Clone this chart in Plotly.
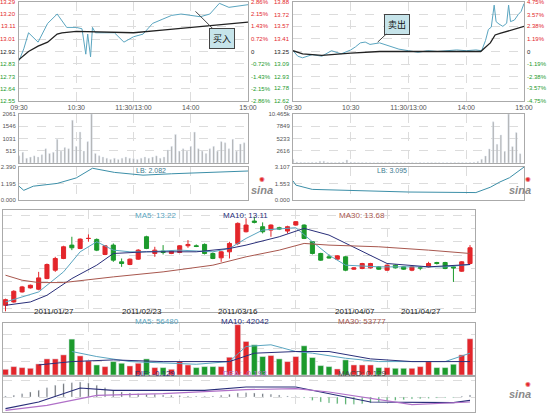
import plotly.graph_objects as go

W, H = 550, 413

# ---------------- intraday, day 1 (buy) ----------------
l_price_t = [0, 5, 10, 20, 30, 40, 50, 60, 66, 70, 72, 75, 77, 80, 90, 100, 110, 120, 130,
             140, 150, 160, 170, 180, 190, 200, 210, 220, 230, 240]
l_price = [12.85, 12.94, 13.06, 12.99, 13.13, 13.20, 13.10, 13.10, 13.09, 12.90, 13.05, 12.88,
           13.10, 13.06, 13.06, 13.06, 12.99, 13.03, 13.05, 13.13, 13.16, 13.19, 13.20, 13.19,
           13.18, 13.20, 13.28, 13.25, 13.26, 13.27]
l_avg_t = [0, 10, 20, 30, 40, 45, 60, 120, 150, 180, 210, 240]
l_avg = [12.86, 12.92, 12.96, 12.99, 13.05, 13.06, 13.07, 13.06, 13.08, 13.10, 13.12, 13.14]
l_vol = [300, 450, 200, 250, 300, 250, 350, 600, 400, 450, 1000, 500, 650, 600, 1800, 700,
         1300, 500, 900, 2061, 400, 300, 250, 200, 150, 200, 150, 200, 250, 200, 180, 150,
         200, 250, 200, 250, 300, 200, 250, 550, 700, 1200, 500, 600, 500, 700, 1300, 600,
         500, 400, 600, 700, 500, 900, 850, 600, 1000, 500, 800, 850]
l_lb_t = [0, 5, 15, 40, 60, 77, 100, 130, 160, 200, 240]
l_lb = [1.0, 0.7, 1.0, 1.2, 1.6, 2.3, 2.0, 1.8, 1.9, 2.0, 2.1]
l_ticks = [13.29, 13.20, 13.11, 13.01, 12.92, 12.83, 12.73, 12.64, 12.55]
l_pct = ["2.86%", "2.15%", "1.43%", "0.72%", "0", "-0.72%", "-1.43%", "-2.15%", "-2.86%"]
l_vol_ticks = [515, 1031, 1546, 2061]
l_lb_ticks = [0.0, 1.195, 2.390]

# ---------------- intraday, day 2 (sell) ----------------
r_price_t = [0, 5, 10, 20, 30, 40, 50, 60, 65, 70, 75, 80, 90, 100, 110, 120, 130, 140, 150,
             160, 170, 180, 190, 196, 200, 203, 206, 209, 211, 214, 218, 222, 224, 226, 230,
             234, 237, 240]
r_price = [13.26, 13.19, 13.17, 13.21, 13.19, 13.26, 13.22, 13.27, 13.31, 13.36, 13.37,
           13.34, 13.36, 13.32, 13.28, 13.26, 13.24, 13.26, 13.25, 13.26, 13.27, 13.26, 13.27,
           13.26, 13.39, 13.53, 13.56, 13.84, 13.63, 13.60, 13.57, 13.61, 13.84, 13.63, 13.65,
           13.72, 13.76, 13.86]
r_avg_t = [0, 10, 30, 60, 90, 195, 205, 210, 215, 225, 240]
r_avg = [13.26, 13.22, 13.20, 13.23, 13.25, 13.25, 13.36, 13.46, 13.48, 13.52, 13.57]
r_vol = [800, 200, 150, 100, 100, 150, 150, 350, 400, 150, 100, 100, 150, 200, 650, 200, 150,
         100, 100, 100, 80, 80, 100, 80, 80, 80, 80, 100, 100, 80, 80, 80, 80, 100, 80, 80, 80,
         80, 80, 80, 80, 80, 100, 80, 80, 80, 100, 150, 300, 800, 1500, 3000, 8800, 4000, 6000,
         2500, 10465, 3500, 6500, 2000]
r_lb_t = [0, 3, 20, 60, 120, 190, 205, 215, 225, 240]
r_lb = [1.8, 1.4, 1.0, 0.9, 0.75, 0.7, 1.2, 1.7, 2.1, 3.1]
r_ticks = [13.88, 13.72, 13.57, 13.41, 13.25, 13.09, 12.93, 12.78, 12.62]
r_pct = ["4.75%", "3.57%", "2.38%", "1.19%", "0", "-1.19%", "-2.38%", "-3.57%", "-4.75%"]
r_vol_ticks = [2616, 5233, 7849, 10465]
r_lb_ticks = [0.0, 1.553, 3.107]

time_ticks = [0, 60, 120, 180, 240]
time_labels = ["09:30", "10:30", "11:30/13:00", "14:00", "15:00"]

# ---------------- daily k-line ----------------
k_open = [12.50, 12.60, 12.90, 13.02, 12.98, 13.30, 13.55, 13.90, 14.30, 14.20, 14.50, 14.47,
          14.02, 14.30, 13.80, 13.72, 13.88, 14.55, 14.05, 14.12, 14.05, 14.08, 14.28, 14.28,
          14.32, 14.05, 13.92, 14.10, 14.35, 14.70, 15.02, 14.85, 14.75, 14.82, 14.72, 14.90,
          14.90, 14.40, 14.05, 13.95, 13.88, 13.95, 13.58, 13.60, 13.62, 13.65, 13.55, 13.70,
          13.65, 13.55, 13.62, 13.65, 13.78, 13.78, 13.65, 13.52, 13.75]
k_close = [12.67, 12.92, 13.05, 13.10, 13.32, 13.72, 13.90, 14.25, 14.22, 14.48, 14.50, 14.15,
           14.28, 13.85, 13.75, 13.88, 14.15, 14.20, 14.15, 14.08, 14.12, 14.28, 14.32, 14.26,
           14.05, 13.90, 14.10, 14.35, 14.95, 14.90, 14.98, 14.70, 14.90, 14.78, 14.85, 15.00,
           14.50, 14.05, 13.85, 13.92, 13.98, 13.55, 13.62, 13.75, 13.75, 13.58, 13.70, 13.62,
           13.58, 13.65, 13.62, 13.75, 13.75, 13.60, 13.62, 13.80, 14.22]
k_high = [12.70, 12.95, 13.08, 13.12, 13.50, 13.75, 13.95, 14.28, 14.55, 14.50, 14.62, 14.50,
          14.30, 14.35, 13.90, 13.90, 14.18, 14.58, 14.25, 14.30, 14.15, 14.30, 14.45, 14.32,
          14.35, 14.08, 14.12, 14.40, 14.98, 15.10, 15.15, 14.98, 14.92, 14.85, 14.88, 15.02,
          14.92, 14.42, 14.07, 14.02, 14.00, 13.97, 13.64, 13.77, 13.77, 13.67, 13.72, 13.72,
          13.66, 13.67, 13.67, 13.80, 13.80, 13.80, 13.67, 13.82, 14.30]
k_low = [12.32, 12.58, 12.88, 13.00, 12.95, 13.28, 13.50, 13.88, 14.15, 14.18, 14.40, 14.12,
         14.00, 13.80, 13.65, 13.70, 13.86, 14.18, 13.95, 14.02, 14.03, 14.06, 14.22, 14.24,
         14.02, 13.88, 13.80, 13.90, 14.30, 14.68, 14.95, 14.65, 14.55, 14.75, 14.65, 14.88,
         14.48, 14.02, 13.83, 13.90, 13.86, 13.52, 13.56, 13.58, 13.60, 13.56, 13.53, 13.60,
         13.56, 13.52, 13.55, 13.63, 13.72, 13.58, 13.20, 13.50, 13.72]
ma5_i = [1, 5, 8, 10, 12, 14, 16, 18, 22, 26, 28, 30, 32, 36, 38, 40, 42, 46, 50, 54, 57]
ma5 = [12.60, 12.90, 13.50, 14.10, 14.40, 14.15, 14.10, 14.10, 14.15, 14.10, 14.20, 14.50,
       14.75, 14.82, 14.40, 14.00, 13.70, 13.65, 13.65, 13.65, 13.72]
ma10_i = [1, 4, 6, 9, 12, 14, 18, 24, 28, 30, 34, 37, 40, 44, 47, 52, 57]
ma10 = [12.50, 12.60, 12.80, 13.30, 13.70, 14.05, 14.10, 14.10, 14.20, 14.30, 14.55, 14.80,
        14.60, 14.10, 13.75, 13.65, 13.72]
ma30_i = [1, 3, 5, 8, 14, 20, 26, 30, 34, 37, 40, 46, 52, 57]
ma30 = [13.40, 13.25, 13.18, 13.18, 13.35, 13.50, 13.70, 13.95, 14.15, 14.35, 14.30, 14.25,
        14.15, 14.05]

k_vol = [8500, 12500, 11000, 10000, 16500, 24000, 24000, 30000, 53500, 28500, 21000, 15000,
         12500, 20000, 17500, 13500, 17500, 24000, 11000, 11000, 8500, 20000, 15000, 11000,
         12500, 12500, 12500, 26500, 75000, 50000, 45000, 27500, 29000, 24000, 20000, 27500,
         43500, 26000, 14000, 12500, 9000, 22500, 15000, 15000, 15000, 11000, 11000, 10000,
         10000, 10000, 12500, 20000, 11000, 11000, 16000, 30000, 54000]
vma5_i = [9, 12, 16, 20, 24, 28, 30, 33, 36, 38, 42, 46, 50, 54, 57]
vma5 = [35000, 27500, 20000, 17500, 16000, 20000, 42500, 45000, 35000, 32500, 25000, 20000,
        20000, 20000, 32500]
vma10_i = [5, 9, 14, 20, 28, 31, 36, 40, 45, 50, 57]
vma10 = [15000, 20000, 22500, 20000, 20000, 32500, 35000, 35000, 24000, 20000, 20000]

macd_hist = [0.03, 0.05, 0.10, 0.15, 0.20, 0.28, 0.35, 0.40, 0.43, 0.45, 0.42, 0.35, 0.28,
             0.20, 0.15, 0.12, 0.10, 0.08, 0.08, 0.06, 0.05, 0.04, 0.03, 0.02, 0.02, 0.03,
             0.05, 0.08, 0.12, 0.13, 0.12, 0.10, 0.08, 0.06, 0.03, 0.01, -0.03, -0.10, -0.15,
             -0.18, -0.20, -0.22, -0.22, -0.20, -0.18, -0.15, -0.12, -0.10, -0.08, -0.06,
             -0.05, -0.04, -0.03, -0.02, -0.02, 0.02, 0.06]
dif_i = [1, 5, 10, 14, 25, 30, 36, 40, 45, 55, 57]
dif = [-0.35, -0.15, 0.27, 0.20, 0.20, 0.30, 0.30, 0.10, -0.15, -0.17, -0.10]
dea_i = [1, 6, 12, 20, 30, 36, 40, 45, 50, 57]
dea = [-0.40, -0.25, 0.05, 0.10, 0.22, 0.25, 0.15, -0.05, -0.23, -0.15]

date_labels = ["2011/01/27", "2011/02/23", "2011/03/16", "2011/04/07", "2011/04/27"]

RED, GREEN = "#e3262b", "#1c9a2c"
BLUE, NAVY, BROWN, VIOLET = "#5aa5c0", "#2a2f7a", "#a8574e", "#b070c8"
GRID = "#dcdcdc"
FONT = "Liberation Sans"
TICK = 6

fig = go.Figure()
days = list(range(1, len(k_open) + 1))
up = [c >= o for o, c in zip(k_open, k_close)]
vol_colors = [RED if u else GREEN for u in up]


def px(v):
    return v / W


def py(v):
    return 1 - v / H


def axis(dom, rng, **kw):
    d = dict(domain=dom, range=rng, showgrid=True, gridcolor=GRID, griddash="dash",
             gridwidth=1, zeroline=False, showline=True, linecolor="#aaa", mirror=True,
             tickfont=dict(size=TICK, color="#555", family=FONT), ticks="", fixedrange=True,
             automargin=False)
    d.update(kw)
    return d


annotations = []


def intraday(n, x0, x1, pt, pr, at, av, vol, lbt, lb, ticks, pct, vticks, lbticks):
    xa = f"x{n}" if n > 1 else "x"
    ya = f"y{n}" if n > 1 else "y"
    fig.add_trace(go.Scatter(x=pt, y=pr, mode="lines", line=dict(color=BLUE, width=1),
                             xaxis=xa, yaxis=ya))
    fig.add_trace(go.Scatter(x=at, y=av, mode="lines", line=dict(color="#222", width=1.3),
                             xaxis=xa, yaxis=ya))
    vt = [i * 4 for i in range(len(vol))]
    fig.add_trace(go.Bar(x=vt, y=vol, marker_color="#a8a8a8", width=1.6,
                         xaxis=f"x{n+1}", yaxis=f"y{n+1}"))
    fig.add_trace(go.Scatter(x=lbt, y=lb, mode="lines", line=dict(color="#3c8fa8", width=1),
                             xaxis=f"x{n+2}", yaxis=f"y{n+2}"))
    dom = [px(x0), px(x1)]
    key = lambda k, i: f"{k}axis{i}" if i > 1 else f"{k}axis"
    fig.layout[key("x", n)] = axis(dom, [0, 240], tickvals=time_ticks, ticktext=time_labels,
                                   anchor=ya, tickfont=dict(size=7, color="#555", family=FONT))
    fig.layout[key("y", n)] = axis([py(101), py(2)], [ticks[-1], ticks[0]], tickvals=ticks,
                                   showticklabels=False, anchor=xa)
    fig.layout[key("x", n + 1)] = axis(dom, [0, 240], showticklabels=False,
                                       tickvals=time_ticks, anchor=f"y{n+1}")
    fig.layout[key("y", n + 1)] = axis([py(163), py(114)], [0, vticks[-1]], tickvals=vticks,
                                       anchor=f"x{n+1}", ticklabelstandoff=1)
    fig.layout[key("x", n + 2)] = axis(dom, [0, 240], showticklabels=False,
                                       tickvals=time_ticks, anchor=f"y{n+2}")
    fig.layout[key("y", n + 2)] = axis([py(200), py(167)], [0, lbticks[-1]],
                                       tickvals=lbticks, tickformat=".3f",
                                       anchor=f"x{n+2}", ticklabelstandoff=1)
    for i, (t, p) in enumerate(zip(ticks, pct)):
        col = RED if i < 4 else ("#222" if i == 4 else GREEN)
        annotations.append(dict(x=px(x0) - 0.001, y=t, xref="paper", yref=ya, text=f"{t:.2f}",
                                xanchor="right", showarrow=False,
                                font=dict(size=TICK, color=col, family=FONT)))
        annotations.append(dict(x=px(x1) + 0.001, y=t, xref="paper", yref=ya, text=p,
                                xanchor="left", showarrow=False,
                                font=dict(size=TICK, color=col, family=FONT)))


intraday(1, 19, 248, l_price_t, l_price, l_avg_t, l_avg, l_vol, l_lb_t, l_lb,
         l_ticks, l_pct, l_vol_ticks, l_lb_ticks)
intraday(4, 293, 524, r_price_t, r_price, r_avg_t, r_avg, r_vol, r_lb_t, r_lb,
         r_ticks, r_pct, r_vol_ticks, r_lb_ticks)

annotations += [
    dict(x=0.5 * (px(19) + px(248)), y=py(165), xref="paper", yref="paper", text="LB: 2.082",
         showarrow=False, yanchor="top", font=dict(size=7, color="#3c7a90", family=FONT)),
    dict(x=0.5 * (px(293) + px(524)), y=py(165), xref="paper", yref="paper", text="LB: 3.095",
         showarrow=False, yanchor="top", font=dict(size=7, color="#3c7a90", family=FONT)),
    dict(x=185, y=13.22, xref="x", yref="y", ax=213, ay=13.02, axref="x", ayref="y",
         text="买入", showarrow=True, arrowhead=0, arrowwidth=1, arrowcolor="#444",
         bgcolor="#c6e4ea", bordercolor="#444", borderwidth=1, borderpad=3,
         font=dict(size=9, color="#111", family="Noto Sans CJK SC")),
    dict(x=88, y=13.37, xref="x4", yref="y4", ax=108, ay=13.60, axref="x4", ayref="y4",
         text="卖出", showarrow=True, arrowhead=0, arrowwidth=1, arrowcolor="#444",
         bgcolor="#c6e4ea", bordercolor="#444", borderwidth=1, borderpad=3,
         font=dict(size=9, color="#111", family="Noto Sans CJK SC")),
]

# ---------------- daily panels ----------------
fig.add_trace(go.Candlestick(x=days, open=k_open, high=k_high, low=k_low, close=k_close,
                             increasing=dict(line=dict(color=RED, width=1), fillcolor=RED),
                             decreasing=dict(line=dict(color=GREEN, width=1), fillcolor=GREEN),
                             whiskerwidth=0, xaxis="x7", yaxis="y7"))
for xi, yv, col in [(ma5_i, ma5, BLUE), (ma10_i, ma10, NAVY), (ma30_i, ma30, BROWN)]:
    fig.add_trace(go.Scatter(x=xi, y=yv, mode="lines", line=dict(color=col, width=1),
                             xaxis="x7", yaxis="y7"))
fig.add_trace(go.Bar(x=days, y=k_vol, marker_color=vol_colors, width=0.7,
                     xaxis="x8", yaxis="y8"))
for xi, yv, col in [(vma5_i, vma5, BLUE), (vma10_i, vma10, NAVY)]:
    fig.add_trace(go.Scatter(x=xi, y=yv, mode="lines", line=dict(color=col, width=1),
                             xaxis="x8", yaxis="y8"))
fig.add_trace(go.Bar(x=days, y=macd_hist, width=0.15,
                     marker_color=["#444" if v >= 0 else GREEN for v in macd_hist],
                     xaxis="x9", yaxis="y9"))
fig.add_trace(go.Scatter(x=dif_i, y=dif, mode="lines", line=dict(color=NAVY, width=1.2),
                         xaxis="x9", yaxis="y9"))
fig.add_trace(go.Scatter(x=dea_i, y=dea, mode="lines", line=dict(color=VIOLET, width=1.2),
                         xaxis="x9", yaxis="y9"))

kdom = [px(3), px(475)]
krng = [0.7, 57.6]
kgrid = [11, 22, 36, 47]
fig.update_layout(
    xaxis7=axis(kdom, krng, tickvals=kgrid, showticklabels=False, anchor="y7",
                rangeslider=dict(visible=False)),
    yaxis7=axis([py(312), py(210)], [12.30, 15.35], dtick=0.4, showticklabels=False,
                anchor="x7"),
    xaxis8=axis(kdom, krng, tickvals=kgrid, showticklabels=False, anchor="y8"),
    yaxis8=axis([py(375), py(323)], [0, 77500], dtick=20000, showticklabels=False,
                anchor="x8"),
    xaxis9=axis(kdom, krng, tickvals=kgrid, showticklabels=False, anchor="y9"),
    yaxis9=axis([py(412), py(377)], [-0.45, 0.60], dtick=0.5, showticklabels=False,
                anchor="x9"),
)

for lx, txt in zip([32, 120, 238, 355, 443], date_labels):
    annotations.append(dict(x=px(lx), y=py(318), xref="paper", yref="paper", text=txt,
                            showarrow=False, font=dict(size=8, color="#222", family=FONT)))
for yy, items in [(215, [("MA5: 13.22", BLUE), ("MA10: 13.11", NAVY), ("MA30: 13.68", BROWN)]),
                  (328, [("MA5: 56480", BLUE), ("MA10: 42042", NAVY), ("MA30: 53777", BROWN)]),
                  (380, [("DIF: -0.129", NAVY), ("DEA: -0.193", VIOLET), ("MACD: 0.129", "#444")])]:
    for lx, (txt, col) in zip([133, 245, 362], items):
        annotations.append(dict(x=px(lx), y=py(yy), xref="paper", yref="paper", text=txt,
                                showarrow=False,
                                font=dict(size=8, color=col, family=FONT)))
for lx, lyy in [(262, 190), (533, 190), (533, 402)]:
    annotations.append(dict(x=px(lx), y=py(lyy), xref="paper", yref="paper",
                            text="<i><b>sina</b></i>", showarrow=False,
                            font=dict(size=11, color="#8a8a8a", family=FONT)))
    annotations.append(dict(x=px(lx), y=py(lyy - 11), xref="paper", yref="paper",
                            text="✺", showarrow=False, font=dict(size=7, color=RED)))

fig.update_layout(width=W, height=H, margin=dict(l=0, r=0, t=0, b=0),
                  paper_bgcolor="white", plot_bgcolor="white", showlegend=False,
                  bargap=0, annotations=annotations)
fig.write_html("out.html", config=dict(displayModeBar=False, staticPlot=True),
               post_script="document.body.style.margin='0';document.body.style.overflow='hidden';")
